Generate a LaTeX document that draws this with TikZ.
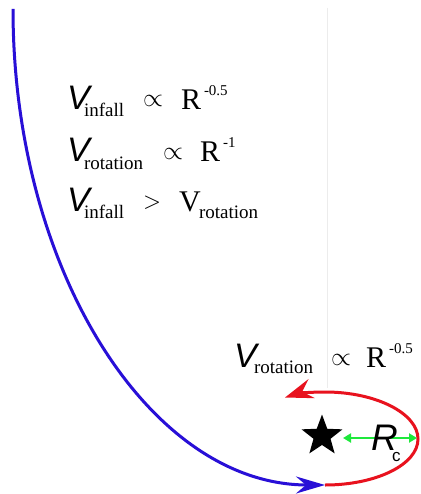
\documentclass[tikz,border=0pt]{standalone}
\usepackage{graphicx}
\usepackage{fontspec}
\setmainfont{Liberation Serif}
\newfontfamily\arialf{Liberation Sans}
\usetikzlibrary{arrows.meta,shapes.geometric}
\definecolor{blueline}{RGB}{40,15,215}
\definecolor{redline}{RGB}{232,18,30}
\definecolor{greenline}{RGB}{30,232,60}
\definecolor{guide}{RGB}{236,236,236}
\newcommand{\proptosym}{\resizebox{20pt}{!}{$\propto$}}
\newcommand{\gtsym}{\resizebox{18pt}{!}{$>$}}
\begin{document}
\begin{tikzpicture}[x=1pt,y=-1pt,
  txt/.style={anchor=base west,inner sep=0pt,outer sep=0pt},
  vit/.style={txt,font=\fontsize{34}{34}\selectfont\arialf\itshape},
  subx/.style={txt,font=\fontsize{19}{19}\selectfont},
  bigr/.style={txt,font=\fontsize{30}{30}\selectfont},
  supx/.style={txt,font=\fontsize{15}{15}\selectfont},
  propx/.style={txt},
  bluepath/.style={draw=blueline,line width=3pt,-{Stealth[length=29pt,width=17pt,inset=10pt]}},
  redpath/.style={draw=redline,line width=3pt,-{Stealth[length=28pt,width=20pt,inset=10pt]}},
  greenpath/.style={draw=greenline,line width=2.5pt,{Triangle[length=8pt,width=9pt]}-{Triangle[length=8pt,width=9pt]}},
]
\useasboundingbox[fill=white] (0,0) rectangle (420,494);

% guide line
\coordinate (gtop) at (327.5,8);
\coordinate (gbot) at (327.5,388);
\draw[guide,line width=1pt] (gtop) -- (gbot);

% line 1
\node[vit]   (v1)  at (67,110) {V};
\node[subx]  (s1)  at (84,117) {infall};
\node[propx] (p1)  at (143,107) {\proptosym};
\node[bigr]  (r1)  at (181,110) {R};
\node[supx]  (e1)  at (204,96) {-0.5};

% line 2
\node[vit]   (v2)  at (67,162) {V};
\node[subx]  (s2)  at (84,170) {rotation};
\node[propx] (p2)  at (163,160) {\proptosym};
\node[bigr]  (r2)  at (200,162) {R};
\node[supx]  (e2)  at (223,148) {-1};

% line 3
\node[vit]   (v3)  at (67,211) {V};
\node[subx]  (s3)  at (84,218) {infall};
\node[propx] (g3)  at (143,208.5) {\gtsym};
\node[bigr]  (r3)  at (179,211) {V};
\node[subx]  (s4)  at (199,218) {rotation};

% bottom label
\node[vit]   (v4)  at (234,367) {V};
\node[subx]  (s5)  at (254,373) {rotation};
\node[propx] (p4)  at (331,365) {\proptosym};
\node[bigr]  (r4)  at (366,367) {R};
\node[supx]  (e4)  at (389,353) {-0.5};

% infall path
\coordinate (bs) at (13,9);
\coordinate (be) at (325,485);
\path[bluepath] (bs) .. controls (13,270) and (150,485) .. (be);

% rotation path
\coordinate (rr) at (418,439);
\coordinate (rt) at (325,392);
\coordinate (re) at (285,397.5);
\path[redpath] (be) .. controls (376.4,485) and (418,464.4) .. (rr)
  .. controls (418,413.6) and (376.4,392) .. (rt)
  .. controls (310,392) and (297,393.5) .. (re);

% star and radius
\node[star,star points=5,star point ratio=2.4,minimum size=43pt,fill=black,inner sep=0pt] (star) at (322,436) {};
\coordinate (ga) at (343,438);
\coordinate (gb) at (417,438);
\draw[greenpath] (ga) -- (gb);
\node[txt,font=\fontsize{37}{37}\selectfont\arialf\itshape] (rc) at (371,450) {R};
\node[txt,font=\fontsize{17}{17}\selectfont\arialf] (rcs) at (392,461) {c};
\end{tikzpicture}
\end{document}
